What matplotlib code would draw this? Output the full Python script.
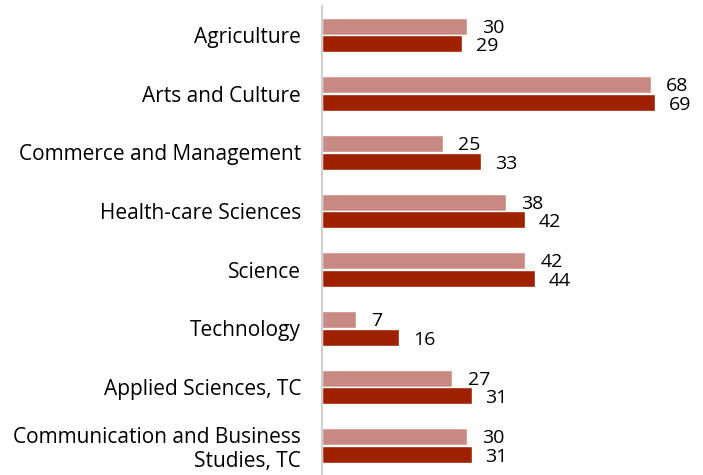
import numpy as np
import matplotlib.pyplot as plt

plt.rcParams['font.family'] = ['Open Sans', 'DejaVu Sans']

categories = ['Agriculture', 'Arts and Culture', 'Commerce and Management',
              'Health-care Sciences', 'Science', 'Technology',
              'Applied Sciences, TC', 'Communication and Business\nStudies, TC']
series_a = [30, 68, 25, 38, 42, 7, 27, 30]
series_b = [29, 69, 33, 42, 44, 16, 31, 31]

fig = plt.figure(figsize=(7.03, 4.75), dpi=100)
ax = fig.add_axes([0.458, 0.0, 0.495, 0.988])

y = np.arange(len(categories))
h = 0.29
ax.barh(y - 0.15, series_a, height=h, color='#C98983', edgecolor='white', linewidth=1)
ax.barh(y + 0.15, series_b, height=h, color='#A02100', edgecolor='white', linewidth=1)

for yi, a, b in zip(y, series_a, series_b):
    ax.text(a + 3.2, yi - 0.16, str(a), va='center_baseline', ha='left', fontsize=14)
    ax.text(b + 2.8, yi + 0.16, str(b), va='center_baseline', ha='left', fontsize=14)

ax.set_xlim(0, 72)
ax.set_ylim(len(categories) - 0.5, -0.5)
ax.set_yticks(y)
ax.set_yticklabels(categories, fontsize=15, ha='right', linespacing=1.2)
ax.tick_params(axis='y', length=0, pad=15)
ax.set_xticks([])
for s in ['top', 'right', 'bottom']:
    ax.spines[s].set_visible(False)
ax.spines['left'].set_color('#D0D0D0')
ax.spines['left'].set_linewidth(1.5)

fig.savefig('out.png', dpi=100)
